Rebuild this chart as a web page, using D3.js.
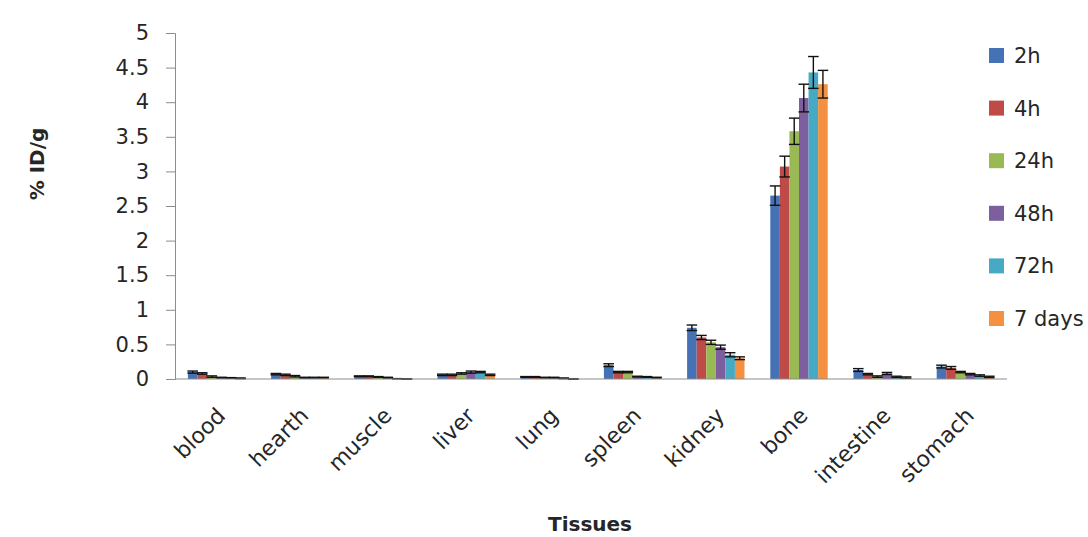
<!DOCTYPE html>
<html>
<head>
<meta charset="utf-8">
<script src="https://cdn.jsdelivr.net/npm/d3@7"></script>
<style>
  body { margin: 0; background: #fff; }
  text { font-family: "DejaVu Sans", sans-serif; fill: #262626; }
</style>
</head>
<body>
<svg id="chart" width="1088" height="537"></svg>
<script>
// tissues on the x axis
const tissues = ["blood", "hearth", "muscle", "liver", "lung", "spleen", "kidney", "bone", "intestine", "stomach"];
const timepoints = ["2h", "4h", "24h", "48h", "72h", "7 days"];
const colors = ["#4572B5", "#BE4B48", "#98B954", "#7D5FA0", "#46AAC4", "#F49140"];

// %ID/g per time point, one value per tissue
const v2h  = [0.10, 0.07, 0.04, 0.06, 0.03, 0.20, 0.74, 2.65, 0.13, 0.18];
const v4h  = [0.08, 0.06, 0.04, 0.06, 0.03, 0.10, 0.60, 3.07, 0.07, 0.16];
const v24h = [0.035, 0.04, 0.03, 0.08, 0.02, 0.10, 0.53, 3.58, 0.035, 0.10];
const v48h = [0.02, 0.02, 0.02, 0.10, 0.02, 0.035, 0.46, 4.06, 0.08, 0.07];
const v72h = [0.015, 0.02, 0.005, 0.10, 0.01, 0.03, 0.35, 4.43, 0.03, 0.05];
const v7d  = [0.01, 0.02, 0.0, 0.06, 0.0, 0.02, 0.30, 4.26, 0.02, 0.03];

// error bars (same layout)
const e2h  = [0.015, 0.01, 0.005, 0.01, 0.005, 0.02, 0.04, 0.14, 0.02, 0.02];
const e4h  = [0.01, 0.01, 0.005, 0.01, 0.005, 0.01, 0.03, 0.15, 0.01, 0.02];
const e24h = [0.01, 0.01, 0.005, 0.01, 0.005, 0.01, 0.03, 0.19, 0.01, 0.01];
const e48h = [0.005, 0.005, 0.005, 0.015, 0.005, 0.005, 0.03, 0.20, 0.015, 0.01];
const e72h = [0.005, 0.005, 0.0, 0.01, 0.005, 0.005, 0.03, 0.23, 0.01, 0.01];
const e7d  = [0.005, 0.005, 0.0, 0.01, 0.0, 0.005, 0.02, 0.20, 0.01, 0.01];

const values = [v2h, v4h, v24h, v48h, v72h, v7d];
const errors = [e2h, e4h, e24h, e48h, e72h, e7d];
const yTicks = [0, 0.5, 1, 1.5, 2, 2.5, 3, 3.5, 4, 4.5, 5];

const svg = d3.select("#chart");
const plotLeft = 175, plotRight = 1007, plotTop = 33, plotBottom = 379;

const x0 = d3.scaleBand().domain(tissues).range([plotLeft, plotRight]).paddingInner(0.31).paddingOuter(0.155);
const x1 = d3.scaleBand().domain(timepoints).range([0, x0.bandwidth()]);
const y = d3.scaleLinear().domain([0, 5]).range([plotBottom, plotTop]);

// build rows for bars
const rows = [];
tissues.forEach((t, i) => {
  timepoints.forEach((s, j) => {
    rows.push({ tissue: t, series: s, j: j, value: values[j][i], err: errors[j][i] });
  });
});

// bars
svg.append("g").selectAll("rect")
  .data(rows)
  .enter()
  .append("rect")
  .attr("x", d => x0(d.tissue) + x1(d.series))
  .attr("y", d => y(d.value))
  .attr("width", x1.bandwidth())
  .attr("height", d => y(0) - y(d.value))
  .attr("fill", d => colors[d.j]);

// error bars
const eb = svg.append("g").attr("stroke", "#111").attr("stroke-width", 1.4);
rows.forEach(d => {
  const cx = x0(d.tissue) + x1(d.series) + x1.bandwidth() / 2;
  const hw = x1.bandwidth() / 2 + 0.5;
  const lo = y(Math.max(0, d.value - d.err)), hi = y(d.value + d.err);
  eb.append("line").attr("x1", cx).attr("x2", cx).attr("y1", lo).attr("y2", hi);
  eb.append("line").attr("x1", cx - hw).attr("x2", cx + hw).attr("y1", hi).attr("y2", hi);
  eb.append("line").attr("x1", cx - hw).attr("x2", cx + hw).attr("y1", lo).attr("y2", lo);
});

// y axis
const yAxis = svg.append("g")
  .attr("transform", `translate(${plotLeft},0)`)
  .call(d3.axisLeft(y).tickValues(yTicks).tickSize(9).tickPadding(17).tickFormat(d3.format("")));
yAxis.select(".domain").attr("stroke", "#8c8c8c");
yAxis.selectAll(".tick line").attr("stroke", "#8c8c8c");
yAxis.selectAll(".tick text").style("font-size", "21px").attr("fill", "#262626");

// x axis line
svg.append("line")
  .attr("x1", plotLeft).attr("x2", plotRight)
  .attr("y1", plotBottom).attr("y2", plotBottom)
  .attr("stroke", "#8c8c8c");

// x labels
svg.append("g").selectAll("text")
  .data(tissues)
  .enter()
  .append("text")
  .attr("transform", d => `translate(${x0(d) + x0.bandwidth() / 2 + 10},${plotBottom + 38}) rotate(-45)`)
  .attr("text-anchor", "end")
  .style("font-size", "22px")
  .text(d => d);

// axis titles
svg.append("text")
  .attr("transform", "translate(44,164) rotate(-90)")
  .attr("text-anchor", "middle")
  .style("font-size", "20px")
  .style("font-weight", "bold")
  .text("% ID/g");

svg.append("text")
  .attr("x", 590).attr("y", 531)
  .attr("text-anchor", "middle")
  .style("font-size", "20px")
  .style("font-weight", "bold")
  .text("Tissues");

// legend
const legend = svg.append("g");
timepoints.forEach((s, j) => {
  const ly = 55 + j * 52.6;
  legend.append("rect").attr("x", 989).attr("y", ly - 7).attr("width", 15).attr("height", 15).attr("fill", colors[j]);
  legend.append("text").attr("x", 1014).attr("y", ly + 8).style("font-size", "21px").text(s);
});
</script>
</body>
</html>
